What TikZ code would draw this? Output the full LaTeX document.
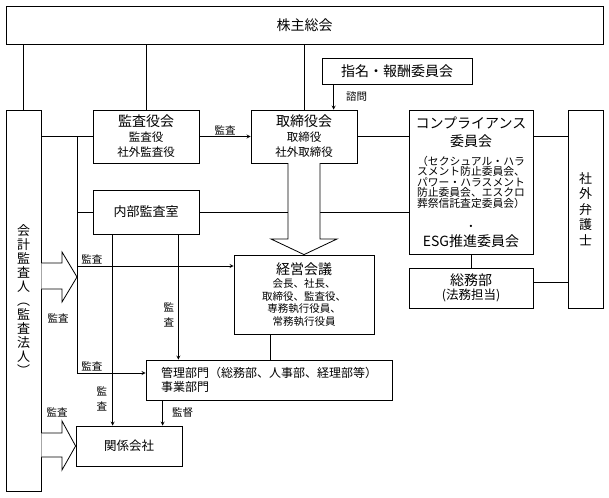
\documentclass[tikz,border=0pt]{standalone}
\usepackage{fontspec}
\setmainfont{Noto Sans CJK JP}
\usetikzlibrary{positioning, arrows}

\newcommand{\tightls}{\setlength{\lineskiplimit}{-10pt}\setlength{\lineskip}{0pt}}
\newcommand{\hd}{\fontsize{14}{14}\selectfont}
\newcommand{\sbt}{\fontsize{11.5}{15}\selectfont\tightls}
\newcommand{\sml}{\fontsize{10.8}{10.5}\selectfont\tightls}
\newcommand{\vtxt}{\fontsize{13}{14}\selectfont\tightls}
\newcommand{\vlaw}{\fontsize{13}{15.5}\selectfont\tightls}
\newcommand{\smu}{\fontsize{12.5}{14}\selectfont\tightls}
\newcommand{\kei}{\fontsize{10.5}{12.5}\selectfont\tightls}
\newcommand{\kan}{\fontsize{12}{14}\selectfont\tightls}
\newcommand{\lblfont}{\fontsize{10.5}{15}\selectfont\tightls}

\begin{document}
\begin{tikzpicture}[x=1pt, y=-1pt, >=stealth, line width=0.8pt,
    box/.style={draw, fill=white, align=center, inner sep=1pt},
    lbl/.style={font=\lblfont, inner sep=1pt, align=center}]

    \useasboundingbox (0,0) rectangle (609,497);

    \node[box, minimum width=597pt, minimum height=38pt, font=\hd] (agm) at (304.5,25) {株主総会};
    \node[box, minimum width=150pt, minimum height=26pt, font=\hd] (nomcom) at (397,71) {指名・報酬委員会};
    \node[box, minimum width=35pt, minimum height=381pt, font=\vtxt] (auditor) at (23.5,300.5)
        {会\\計\\監\\査\\人\\︵\\監\\査\\法\\人\\︶};
    \node[box, minimum width=106pt, minimum height=53pt, font=\sbt] (kansayaku) at (146,136.5) {{\hd 監査役会}\\監査役\\社外監査役};
    \node[box, minimum width=106pt, minimum height=53pt, font=\sbt] (board) at (304,136.5) {{\hd 取締役会}\\取締役\\社外取締役};
    \node[box, minimum width=124pt, minimum height=144pt, font=\sml] (compl) at (471,182)
        {{\hd コンプライアンス}\\[7.5pt]{\hd 委員会}\\[8.5pt]（セクシュアル・ハラ\\スメント防止委員会、\\パワー・ハラスメント\\防止委員会、エスクロ\\葬祭信託査定委員会）\\[12.5pt]・\\[5.5pt]{\hd ESG推進委員会}};
    \node[box, minimum width=35pt, minimum height=198pt, font=\vlaw] (lawyer) at (585.5,209)
        {社\\外\\弁\\護\\士};
    \node[box, minimum width=124pt, minimum height=40pt, font=\smu] (soumu) at (471,288)
        {{\fontsize{14}{14}\selectfont 総務部}\\(法務担当)};
    \node[box, minimum width=106pt, minimum height=44pt, font=\fontsize{13}{13}\selectfont] (naibu) at (146,212) {内部監査室};
    \node[box, minimum width=140pt, minimum height=79pt, font=\kei] (keiei) at (304,294.5)
        {{\hd 経営会議}\\[1pt]会長、社長、\\取締役、監査役、\\専務執行役員、\\常務執行役員};
    \node[box, minimum width=246pt, minimum height=40pt, align=left, font=\kan] (kanri) at (269,380)
        {管理部門（総務部、人事部、経理部等）\\事業部門};
    \node[box, minimum width=106pt, minimum height=40pt, font=\fontsize{12.5}{12.5}\selectfont] (kankei) at (129,446) {関係会社};

    % connectors from the top
    \draw (auditor.north) -- (auditor.north |- agm.south);
    \draw (kansayaku.north) -- (kansayaku.north |- agm.south);
    \draw (board.north) -- (board.north |- agm.south);
    \coordinate (ask) at ([xshift=12pt]nomcom.south west);
    \draw[->] (ask) -- node (lblask) [lbl, right=11pt] {諮問} (ask |- board.north);

    \draw[->] (kansayaku) -- node (lblkb) [lbl, above] {監査} (board);
    \draw (board.east) -- (board.east -| compl.west);
    \draw (board.east -| compl.east) -- (board.east -| lawyer.west);
    \draw (compl) -- (soumu);
    \draw ([yshift=6pt]soumu.east) -- ([yshift=6pt]soumu.east -| lawyer.west);
    \draw (auditor.east |- kansayaku.west) -- (kansayaku.west);
    \draw (naibu.east) -- (naibu.east -| compl.west);

    % left bus
    \coordinate (bus) at (77,0);
    \coordinate (keieiin) at (77,266);
    \coordinate (kanriin) at (77,373);
    \draw (bus |- kansayaku.west) -- (kanriin);
    \draw (bus |- naibu.west) -- (naibu.west);
    \draw[->] (keieiin) -- node (lblke) [lbl, above right, pos=0, xshift=3pt] {監査} (keieiin -| keiei.west);
    \draw[->] (kanriin) -- node (lblkr) [lbl, above right, pos=0, xshift=3pt] {監査} (kanriin -| kanri.west);

    % from internal audit
    \coordinate (naibul) at ([xshift=20pt]naibu.south west);
    \coordinate (naibur) at ([xshift=-21pt]naibu.south east);
    \draw[->] (naibur) -- node (lblnr) [lbl, left=3pt, pos=0.64] {監\\査} (naibur |- kanri.north);
    \draw[->] (naibul) -- node (lblnl) [lbl, left=4pt, pos=0.86] {監\\査} (naibul |- kankei.north);

    \coordinate (keieiout) at ([xshift=-34pt]keiei.south);
    \draw (keieiout) -- (keieiout |- kanri.north);
    \coordinate (kanriout) at ([xshift=17pt]kanri.south west);
    \draw[->] (kanriout) -- node (lblkk) [lbl, right=8pt] {監督} (kanriout |- kankei.north);

    % block arrows
    \filldraw[fill=white] (288,163) -- (288,239) -- (271,239) -- (keiei.north) -- (337,239) -- (320,239) -- (320,163);
    \filldraw[fill=white] (auditor.east |- 0,263) -- (62,263) -- (62,252) -- (77,277) -- (62,302) -- (62,289) -- (auditor.east |- 0,289);
    \filldraw[fill=white] (auditor.east |- 0,433) -- (62,433) -- (62,421) -- (kankei.west) -- (62,470) -- (62,457) -- (auditor.east |- 0,457);
    \node[lbl] (lbla1) at (58,318) {監査};
    \node[lbl] (lbla2) at (57,412) {監査};
\end{tikzpicture}
\end{document}
